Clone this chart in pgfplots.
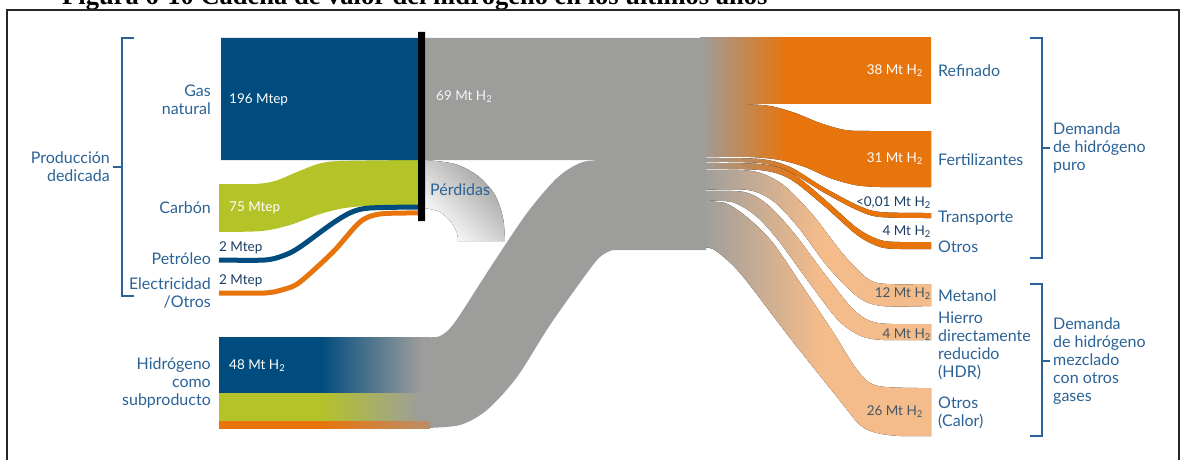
\documentclass[border=0pt]{standalone}
\usepackage{fontspec}
\setmainfont{Lato}
\newfontfamily\titlefont{Liberation Serif}
\usepackage{pgfplots}
\pgfplotsset{compat=1.18}
\usepgfplotslibrary{fillbetween}

\definecolor{dblue}{RGB}{0,76,126}
\definecolor{cgreen}{RGB}{180,195,40}
\definecolor{dorange}{RGB}{232,116,12}
\definecolor{lorange}{RGB}{244,188,138}
\definecolor{mgray}{RGB}{157,157,156}
\definecolor{labblue}{RGB}{42,98,150}
\definecolor{navy}{RGB}{25,60,100}
\definecolor{slate}{RGB}{70,85,100}
\definecolor{tan}{RGB}{190,140,100}

\pgfdeclarehorizontalshading{gDO}{100bp}{color(0bp)=(mgray); color(25bp)=(mgray); color(44bp)=(dorange); color(100bp)=(dorange)}
\pgfdeclarehorizontalshading{gDOt}{100bp}{color(0bp)=(mgray); color(25bp)=(mgray); color(47bp)=(dorange); color(100bp)=(dorange)}
\pgfdeclarehorizontalshading{gLO}{100bp}{color(0bp)=(mgray); color(25bp)=(mgray); color(51bp)=(lorange); color(100bp)=(lorange)}
\pgfdeclarehorizontalshading{bG}{100bp}{color(0bp)=(dblue); color(49bp)=(dblue); color(73bp)=(mgray); color(100bp)=(mgray)}
\pgfdeclarehorizontalshading{grG}{100bp}{color(0bp)=(cgreen); color(49bp)=(cgreen); color(73bp)=(mgray); color(100bp)=(mgray)}
\pgfdeclarehorizontalshading{oG}{100bp}{color(0bp)=(dorange); color(49bp)=(dorange); color(73bp)=(tan); color(100bp)=(tan)}

\newcommand{\Hd}{H\textsubscript{2}}
\tikzset{lab/.style={text=labblue, font=\fontsize{16}{18}\selectfont, inner sep=0pt},
  val/.style={font=\fontsize{13.5}{16}\selectfont, inner sep=0pt}}

\begin{document}
\begin{tikzpicture}
\begin{axis}[name=ax, at={(0,0)}, anchor=south west, width=1186pt, height=459pt,
  scale only axis, xmin=0, xmax=1186, ymin=0, ymax=459, y dir=reverse,
  hide axis, clip=false]

% ---- title (cut off at the top, as in the reference) and frame
\node[anchor=base west, inner sep=0pt, font=\titlefont\bfseries\fontsize{26.5}{26.5}\selectfont] at (axis cs:62,5) {Figura 6-10 Cadena de valor del hidrógeno en los últimos años};
\draw[black!85, line width=2.2pt] (axis cs:7,470) -- (axis cs:7,10) -- (axis cs:1179,10) -- (axis cs:1179,470);

% ---- main grey flow (69 Mt H2 + 48 Mt H2 by-product)
\addplot[draw=none, fill=mgray] coordinates {(420,38) (706,38) (706,160) (420,160) (420,38)};
\addplot[draw=none, fill=mgray] coordinates {(595,158) (706,158) (706,250) (595,250) (595,158)};

% Perdidas
\addplot[draw=none, smooth, name path=pO] coordinates {(425,160) (455,164) (478,176) (495,195) (503,218) (505,241)};
\addplot[draw=none, smooth, name path=pI] coordinates {(425,208) (440,212) (451,222) (457,233) (458,241)};
\addplot[draw=none, left color=mgray, right color=white, shading angle=-45] fill between[of=pO and pI];

% by-product S band
\addplot[draw=none, smooth, name path=sT] coordinates {(425,337) (440,336) (455,322) (490,268) (527,213) (557,178) (580,163) (600,160) (625,160)};
\addplot[draw=none, smooth, name path=sB] coordinates {(425,428) (460,425) (487,410) (517,377) (550,325) (587,273) (600,257) (613,250) (630,250)};
\addplot[draw=none, fill=mgray] fill between[of=sT and sB];

% ---- right bands
% Refinado
\addplot[draw=none, shade, shading=gDO] coordinates {(700,38) (931,38) (931,103) (700,103) (700,38)};
% Fertilizantes
\addplot[draw=none, smooth, name path=fT] coordinates {(700,104) (740,104) (770,106) (795,113) (820,123) (845,130) (870,131) (931,131)};
\addplot[draw=none, smooth, name path=fB] coordinates {(700,157) (750,157) (780,160) (805,167) (830,178) (855,185) (880,187) (931,187)};
\addplot[draw=none, shade, shading=gDO] fill between[of=fT and fB];
% Transporte
\addplot[draw=none, smooth, name path=tT] coordinates {(700,158) (760,159) (790,167) (823,187) (857,205) (880,212) (931,213)};
\addplot[draw=none, smooth, name path=tB] coordinates {(700,162) (760,163) (790,172) (823,192) (857,210) (880,217) (931,218)};
\addplot[draw=none, shade, shading=gDOt] fill between[of=tT and tB];
% Otros
\addplot[draw=none, smooth, name path=oT] coordinates {(700,163) (760,164) (790,172) (823,198) (857,228) (880,240) (900,242) (931,242)};
\addplot[draw=none, smooth, name path=oB] coordinates {(700,169) (760,170) (790,179) (823,205) (857,235) (880,247) (900,249) (931,249)};
\addplot[draw=none, shade, shading=gDOt] fill between[of=oT and oB];
% Metanol
\addplot[draw=none, smooth, name path=mT] coordinates {(700,170) (752,171) (782,184) (812,214) (843,254) (868,279) (887,284) (931,284)};
\addplot[draw=none, smooth, name path=mB] coordinates {(700,190) (748,190) (773,201) (798,227) (828,267) (858,297) (882,306) (931,306)};
\addplot[draw=none, shade, shading=gLO] fill between[of=mT and mB];
% HDR
\addplot[draw=none, smooth, name path=hT] coordinates {(700,191) (744,192) (768,205) (794,233) (824,273) (854,310) (878,323) (931,324)};
\addplot[draw=none, smooth, name path=hB] coordinates {(700,201) (732,202) (756,216) (778,240) (808,281) (838,320) (861,336) (884,340) (931,340)};
\addplot[draw=none, shade, shading=gLO] fill between[of=hT and hB];
% Otros (Calor)
\addplot[draw=none, smooth, name path=cT] coordinates {(700,202) (725,203) (748,218) (773,243) (803,287) (833,332) (858,371) (878,386) (931,388)};
\addplot[draw=none, smooth, name path=cB] coordinates {(700,249) (713,249) (740,273) (790,338) (837,397) (860,425) (877,433) (900,436) (931,436)};
\addplot[draw=none, shade, shading=gLO] fill between[of=cT and cB];

% ---- left inputs
\addplot[draw=none, fill=dblue] coordinates {(221,38) (419,38) (419,160) (221,160) (221,38)};
\addplot[draw=none, smooth, name path=gT] coordinates {(219,184) (255,184) (275,181) (297,172) (318,164) (340,161) (418,160)};
\addplot[draw=none, smooth, name path=gB] coordinates {(219,232) (262,231) (290,225) (320,214) (345,208) (370,206) (418,206)};
\addplot[draw=none, fill=cgreen] fill between[of=gT and gB];
\addplot[dblue, line width=5pt, smooth] coordinates {(219,260) (265,260) (285,255) (300,247) (333,223) (352,212) (370,208) (418,207)};
\addplot[dorange, line width=5pt, smooth] coordinates {(219,293) (265,293) (285,289) (300,282) (333,252) (360,222) (380,214) (418,213)};

% by-product box
\addplot[draw=none, shade, shading=bG] coordinates {(219,337) (430,337) (430,393) (219,393) (219,337)};
\addplot[draw=none, shade, shading=grG] coordinates {(219,393) (430,393) (430,421) (219,421) (219,393)};
\addplot[draw=none, shade, shading=oG] coordinates {(219,421) (430,421) (430,428) (219,428) (219,421)};

% black bar
\addplot[draw=none, fill=black] coordinates {(418,32) (425,32) (425,221) (418,221) (418,32)};

% ---- brackets
\draw[labblue, line width=1.3pt] (axis cs:134,38) -- (axis cs:122,38) -- (axis cs:122,296) -- (axis cs:134,296);
\draw[labblue, line width=1.3pt] (axis cs:113,167) -- (axis cs:122,167);
\draw[labblue, line width=1.3pt] (axis cs:1030,38) -- (axis cs:1042,38) -- (axis cs:1042,258) -- (axis cs:1030,258);
\draw[labblue, line width=1.3pt] (axis cs:1042,148) -- (axis cs:1050,148);
\draw[labblue, line width=1.3pt] (axis cs:1030,284) -- (axis cs:1042,284) -- (axis cs:1042,436) -- (axis cs:1030,436);
\draw[labblue, line width=1.3pt] (axis cs:1042,361) -- (axis cs:1050,361);

% ---- left labels
\node[lab, anchor=east, align=right] at (axis cs:110,167) {Producción\\dedicada};
\node[lab, anchor=east, align=right] at (axis cs:211,100) {Gas\\natural};
\node[lab, anchor=east] at (axis cs:211,208) {Carbón};
\node[lab, anchor=east] at (axis cs:211,259) {Petróleo};
\node[lab, anchor=east, align=right] at (axis cs:211,293) {Electricidad\\/Otros};
\node[lab, anchor=east, align=right] at (axis cs:211,383) {Hidrógeno\\como\\subproducto};

\node[val, text=white, anchor=west] at (axis cs:229,100) {196 Mtep};
\node[val, text=white, anchor=west] at (axis cs:229,208) {75 Mtep};
\node[val, text=navy, anchor=west] at (axis cs:219,248) {2 Mtep};
\node[val, text=navy, anchor=west] at (axis cs:219,281) {2 Mtep};
\node[val, text=white, anchor=west] at (axis cs:229,366) {48 Mt \Hd};
\node[val, text=white!90!mgray, anchor=west] at (axis cs:436,97) {69 Mt \Hd};
\node[lab, anchor=west] at (axis cs:430,190) {Pérdidas};

% ---- right labels
\node[val, text=white, anchor=east] at (axis cs:923,71) {38 Mt \Hd};
\node[val, text=white, anchor=east] at (axis cs:923,159) {31 Mt \Hd};
\node[val, text=navy, anchor=east] at (axis cs:931,203) {<0,01 Mt \Hd};
\node[val, text=navy, anchor=east] at (axis cs:931,232) {4 Mt \Hd};
\node[val, text=slate, anchor=east] at (axis cs:931,294) {12 Mt \Hd};
\node[val, text=slate, anchor=east] at (axis cs:931,335) {4 Mt \Hd};
\node[val, text=slate, anchor=east] at (axis cs:923,412) {26 Mt \Hd};

\node[lab, anchor=west] at (axis cs:938,71) {Refinado};
\node[lab, anchor=west] at (axis cs:938,160) {Fertilizantes};
\node[lab, anchor=west] at (axis cs:938,218) {Transporte};
\node[lab, anchor=west] at (axis cs:938,247) {Otros};
\node[lab, anchor=west] at (axis cs:938,296) {Metanol};
\node[lab, anchor=west, align=left] at (axis cs:938,346) {Hierro\\directamente\\reducido\\(HDR)};
\node[lab, anchor=west, align=left] at (axis cs:938,413) {Otros\\(Calor)};
\node[lab, anchor=west, align=left] at (axis cs:1053,148) {Demanda\\de hidrógeno\\puro};
\node[lab, anchor=west, align=left] at (axis cs:1053,361) {Demanda\\de hidrógeno\\mezclado\\con otros\\gases};
\end{axis}
\pgfresetboundingbox
\useasboundingbox (ax.south west) rectangle (ax.north east);
\end{tikzpicture}
\end{document}
